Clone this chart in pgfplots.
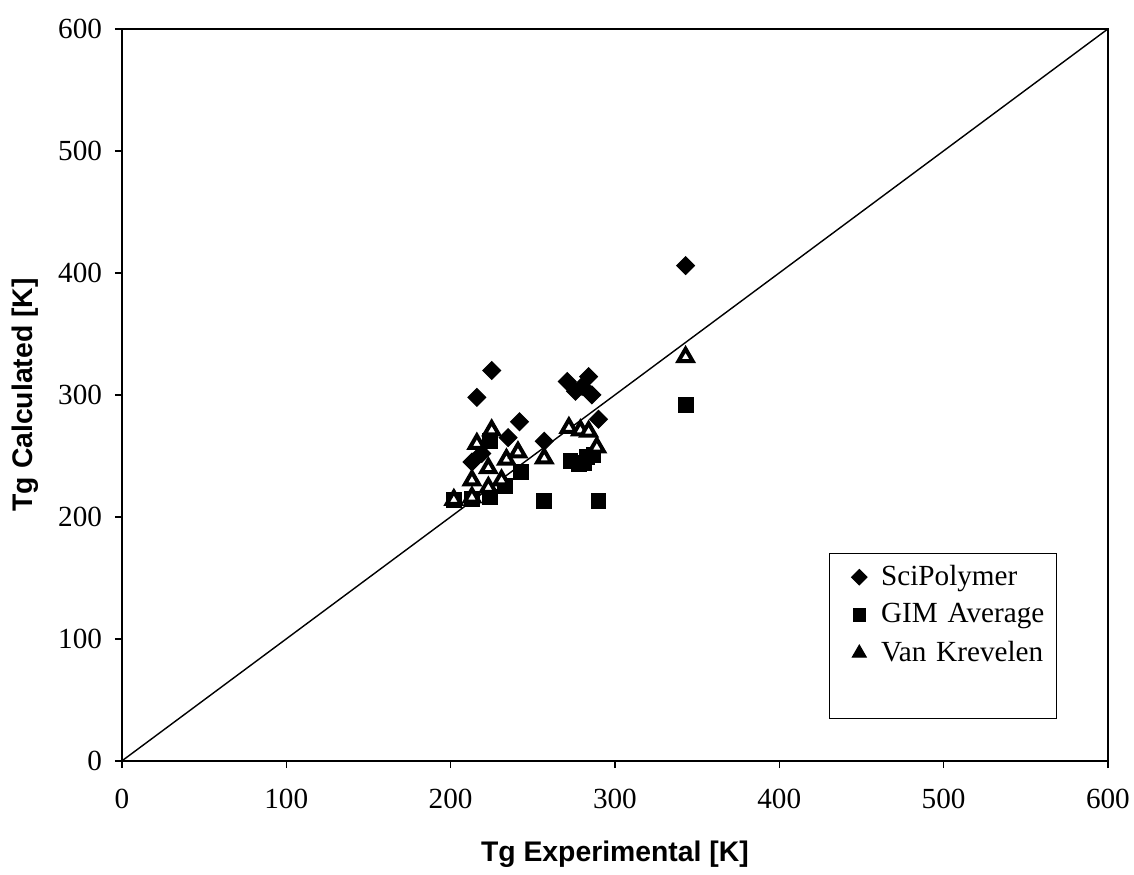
\documentclass[border=0pt]{standalone}
\usepackage{fontspec}
\setmainfont{Liberation Serif}
\newfontfamily\arialfont{Liberation Sans}
\usepackage{pgfplots}
\pgfplotsset{compat=1.18}

\begin{document}
\begin{tikzpicture}
\begin{axis}[
    scale only axis,
    width=347.8pt, height=258.2pt,
    xmin=0, xmax=600, ymin=0, ymax=600,
    xtick={0,100,...,600}, ytick={0,100,...,600},
    tick align=outside, xtick pos=left, ytick pos=left,
    major tick length=2.5pt,
    axis line style={line width=0.8pt},
    tick style={black, line width=0.5pt},
    /pgf/number format/assume math mode=true,
    ticklabel style={font=\fontsize{10.3}{12}\selectfont},
    xticklabel style={yshift=-4pt},
    yticklabel style={xshift=-1pt},
    clip=false,
    legend style={at={(axis description cs:0.717,0.284)}, anchor=north west,
        draw=black, line width=0.4pt, font=\fontsize{10.3}{12}\selectfont,
        inner xsep=2pt, inner ysep=2pt, row sep=0.9pt, column sep=3pt,
        text width=58pt},
    legend cell align=left,
]
\coordinate (bl) at (rel axis cs:0,0);
\coordinate (tr) at (rel axis cs:1,1);
\coordinate (bm) at (rel axis cs:0.5,0);
\coordinate (lm) at (rel axis cs:0,0.5);
\addplot[black, line width=0.5pt, forget plot] coordinates {(0,0) (600,600)};

% SciPolymer
\addplot[only marks, mark=square*, mark size=2.2pt, mark options={rotate=45, fill=black, draw=black}, forget plot] coordinates {
(213,245) (219,252) (216,298) (225,320) (235,265) (242,278) (257,262)
(271,311) (276,303) (280,307) (284,315) (286,300) (290,280) (343,406)
};
% GIM Average
\addplot[only marks, mark=square*, mark size=2.6pt, mark options={fill=black, draw=black}, forget plot] coordinates {
(202,214) (213,215) (224,216) (224,262) (233,225) (243,237) (257,213)
(273,246) (278,243) (281,244) (283,249) (287,251) (290,213) (343,292)
};
% Van Krevelen
\addplot[only marks, mark=triangle*, mark size=2.9pt, mark options={fill=white, draw=black, line width=1.4pt}, forget plot] coordinates {
(202,214) (213,216) (213,230) (216,260) (223,224) (223,240) (225,271)
(231,230) (234,247) (241,253) (257,248) (272,273) (279,271) (284,270)
(289,257) (343,331)
};

\addlegendimage{only marks, mark=square*, mark size=1.9pt, mark options={rotate=45, fill=black}}
\addlegendentry{SciPolymer}
\addlegendimage{only marks, mark=square*, mark size=2.2pt, mark options={fill=black}}
\addlegendentry{GIM Average}
\addlegendimage{only marks, mark=triangle*, mark size=2.8pt, mark options={fill=black}}
\addlegendentry{Van Krevelen}
\addlegendimage{empty legend}
\addlegendentry{\strut}
\end{axis}
\node[font=\arialfont\bfseries\fontsize{10}{12}\selectfont, anchor=center]
    at ([yshift=-33pt]bm) {Tg Experimental [K]};
\node[font=\arialfont\bfseries\fontsize{10}{12}\selectfont, anchor=center, rotate=90]
    at ([xshift=-34.2pt]lm) {Tg Calculated [K]};
\pgfresetboundingbox
\path ([shift={(-43pt,-39.9pt)}]bl) rectangle ([shift={(9.2pt,10.2pt)}]tr);
\end{tikzpicture}
\end{document}
